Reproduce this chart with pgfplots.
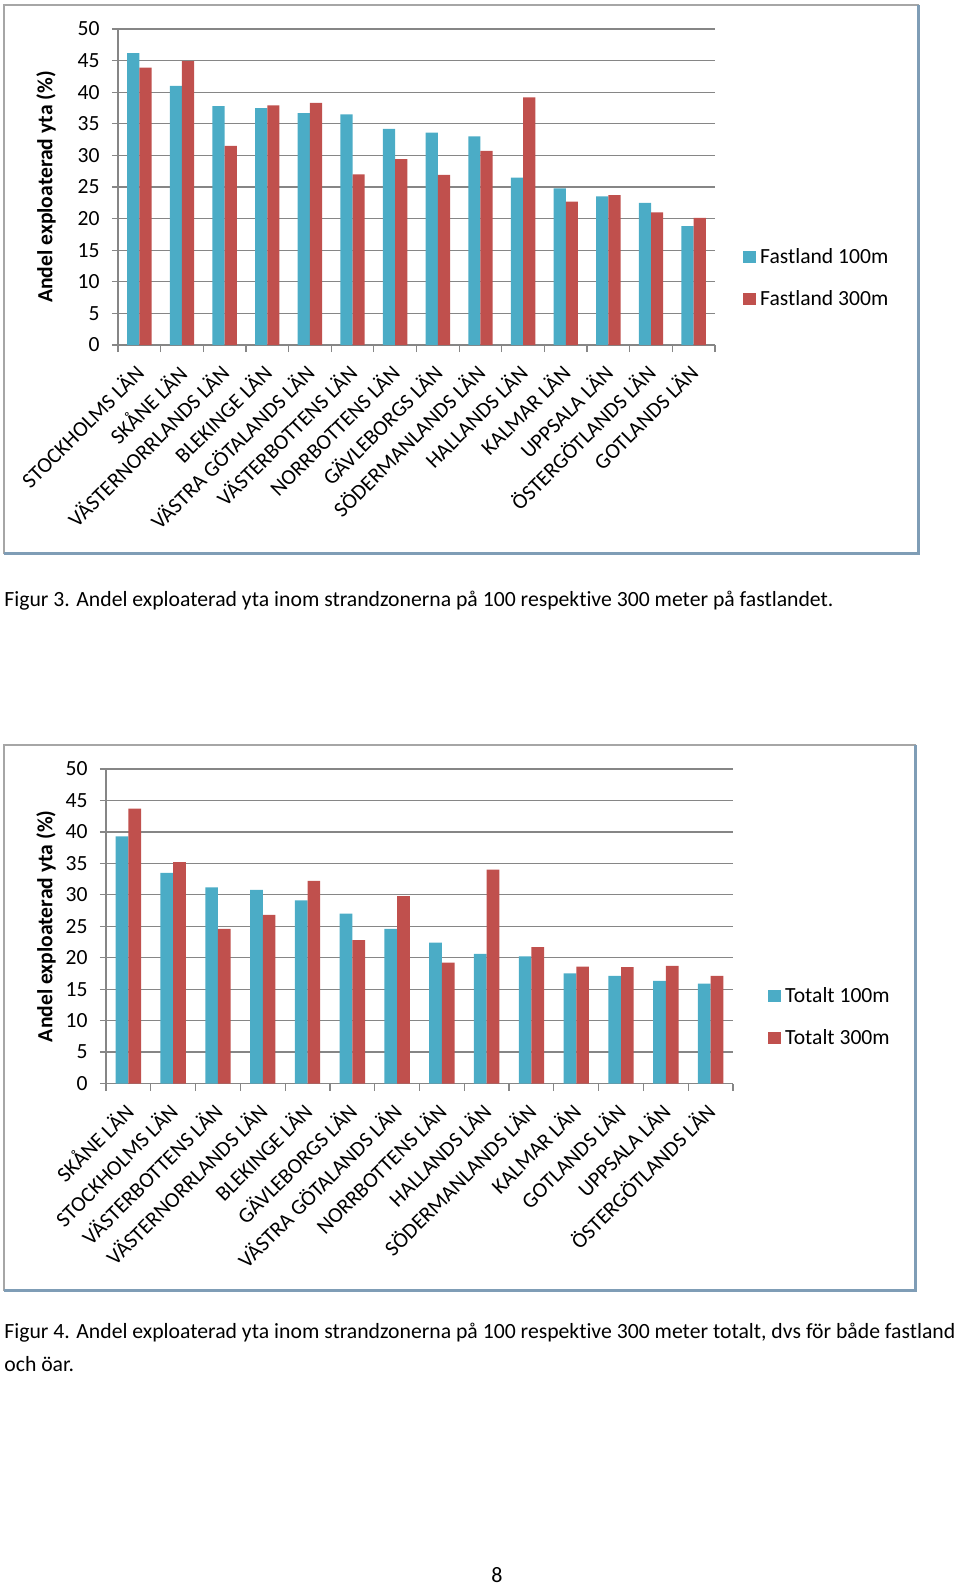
\documentclass[border=0pt]{standalone}
\usepackage{fontspec}
\setmainfont{Carlito}[Ligatures=NoCommon]
\usepackage{pgfplots}
\pgfplotsset{compat=1.18}
\definecolor{barblue}{HTML}{4BACC6}
\definecolor{barred}{HTML}{C0504D}
\definecolor{gridgray}{HTML}{868686}
\definecolor{framegray}{HTML}{A6A6A6}
\definecolor{frameshadow}{HTML}{7F9DB6}
\pgfplotsset{
  mychart/.style={
    scale only axis,
    ybar=0pt,
    ymin=0, ymax=50, ytick={0,5,...,50},
    xmin=-0.5, xmax=13.5, xtick={0,...,13},
    minor xtick={-0.5,0.5,...,13.5},
    axis lines=left,
    axis line style={-, draw=gridgray, line width=0.6pt},
    ymajorgrids,
    grid style={draw=gridgray, line width=0.6pt},
    tick align=outside,
    major tick length=3pt, minor tick length=3.5pt,
    major x tick style={draw=none},
    minor x tick style={draw=gridgray, line width=0.6pt},
    y tick style={draw=gridgray, line width=0.6pt},
    /pgf/number format/assume math mode=true,
    tick label style={font=\fontsize{10.8}{13}\selectfont},
    xticklabel style={rotate=45, anchor=north east, inner sep=1pt, xshift=-5pt, yshift=-0.7pt},
    yticklabel style={anchor=east, inner sep=2pt, xshift=-4pt},
    legend cell align=left,
    legend image code/.code={\fill[##1] (0pt,-3.1pt) rectangle (6.2pt,3.1pt); \path (8.4pt,0pt);},
    legend style={draw=none, fill=none, inner sep=0pt, row sep=11pt,
      nodes={inner sep=0pt, text height=8pt, text depth=2pt, font=\fontsize{10.8}{13}\selectfont}},
  }
}
\pgfplotstableread{
x a b
0 46.2 43.9
1 41.0 44.9
2 37.8 31.5
3 37.5 37.9
4 36.7 38.3
5 36.5 27.0
6 34.2 29.4
7 33.6 26.9
8 33.0 30.7
9 26.5 39.2
10 24.8 22.7
11 23.5 23.7
12 22.5 21.0
13 18.8 20.1
}\fastland
\pgfplotstableread{
x a b
0 39.3 43.7
1 33.5 35.2
2 31.2 24.6
3 30.8 26.8
4 29.1 32.2
5 27.0 22.8
6 24.6 29.8
7 22.4 19.2
8 20.6 34.0
9 20.2 21.7
10 17.5 18.6
11 17.1 18.5
12 16.3 18.7
13 15.9 17.1
}\totalt
\begin{document}
\begin{tikzpicture}
\path[use as bounding box] (0,0) rectangle (480pt,-792.5pt);
% frames
\draw[framegray, line width=0.6pt] (2pt,-2.5pt) rectangle (459pt,-276.5pt);
\draw[frameshadow, line width=1.2pt] (2pt,-276.8pt) -- (459.3pt,-276.8pt) -- (459.3pt,-2.5pt);
\draw[framegray, line width=0.6pt] (2pt,-372.5pt) rectangle (457.5pt,-645pt);
\draw[frameshadow, line width=1.2pt] (2pt,-645.3pt) -- (457.8pt,-645.3pt) -- (457.8pt,-372.5pt);

\begin{axis}[mychart,
  at={(59pt,-172.5pt)}, anchor=south west,
  width=298.5pt, height=158pt,
  bar width=6.1pt,
  xticklabels={STOCKHOLMS LÄN, SKÅNE LÄN, VÄSTERNORRLANDS LÄN, BLEKINGE LÄN, VÄSTRA GÖTALANDS LÄN, VÄSTERBOTTENS LÄN, NORRBOTTENS LÄN, GÄVLEBORGS LÄN, SÖDERMANLANDS LÄN, HALLANDS LÄN, KALMAR LÄN, UPPSALA LÄN, ÖSTERGÖTLANDS LÄN, GOTLANDS LÄN},
  ylabel={Andel exploaterad yta (\%)},
  every axis y label/.style={at={([xshift=-36pt]axis description cs:0,0.5)}, anchor=center, rotate=90, font=\bfseries\fontsize{10.8}{13}\selectfont},
  legend style={at={(1,0.212)}, anchor=west, xshift=14pt},
]
\addplot[fill=barblue, draw=none] table[x=x, y=a] {\fastland};
\addplot[fill=barred, draw=none] table[x=x, y=b] {\fastland};
\legend{Fastland 100m, Fastland 300m}
\end{axis}

\node[anchor=west, inner sep=0pt, font=\fontsize{10.85}{13}\selectfont] at (2pt,-300.5pt) {Figur 3. Andel exploaterad yta inom strandzonerna på 100 respektive 300 meter på fastlandet.};

\begin{axis}[mychart,
  at={(53pt,-541.75pt)}, anchor=south west,
  width=313.5pt, height=157.25pt,
  bar width=6.35pt,
  xticklabels={SKÅNE LÄN, STOCKHOLMS LÄN, VÄSTERBOTTENS LÄN, VÄSTERNORRLANDS LÄN, BLEKINGE LÄN, GÄVLEBORGS LÄN, VÄSTRA GÖTALANDS LÄN, NORRBOTTENS LÄN, HALLANDS LÄN, SÖDERMANLANDS LÄN, KALMAR LÄN, GOTLANDS LÄN, UPPSALA LÄN, ÖSTERGÖTLANDS LÄN},
  ylabel={Andel exploaterad yta (\%)},
  every axis y label/.style={at={([xshift=-30pt]axis description cs:0,0.5)}, anchor=center, rotate=90, font=\bfseries\fontsize{10.8}{13}\selectfont},
  legend style={at={(1,0.211)}, anchor=west, xshift=17.5pt},
]
\addplot[fill=barblue, draw=none] table[x=x, y=a] {\totalt};
\addplot[fill=barred, draw=none] table[x=x, y=b] {\totalt};
\legend{Totalt 100m, Totalt 300m}
\end{axis}

\node[anchor=west, inner sep=0pt, font=\fontsize{10.85}{13}\selectfont] at (2pt,-666.5pt) {Figur 4. Andel exploaterad yta inom strandzonerna på 100 respektive 300 meter totalt, dvs för både fastland};
\node[anchor=west, inner sep=0pt, font=\fontsize{10.85}{13}\selectfont] at (2pt,-682pt) {och öar.};
\node[inner sep=0pt, font=\fontsize{11}{13}\selectfont] at (248.5pt,-787.5pt) {8};
\end{tikzpicture}
\end{document}
